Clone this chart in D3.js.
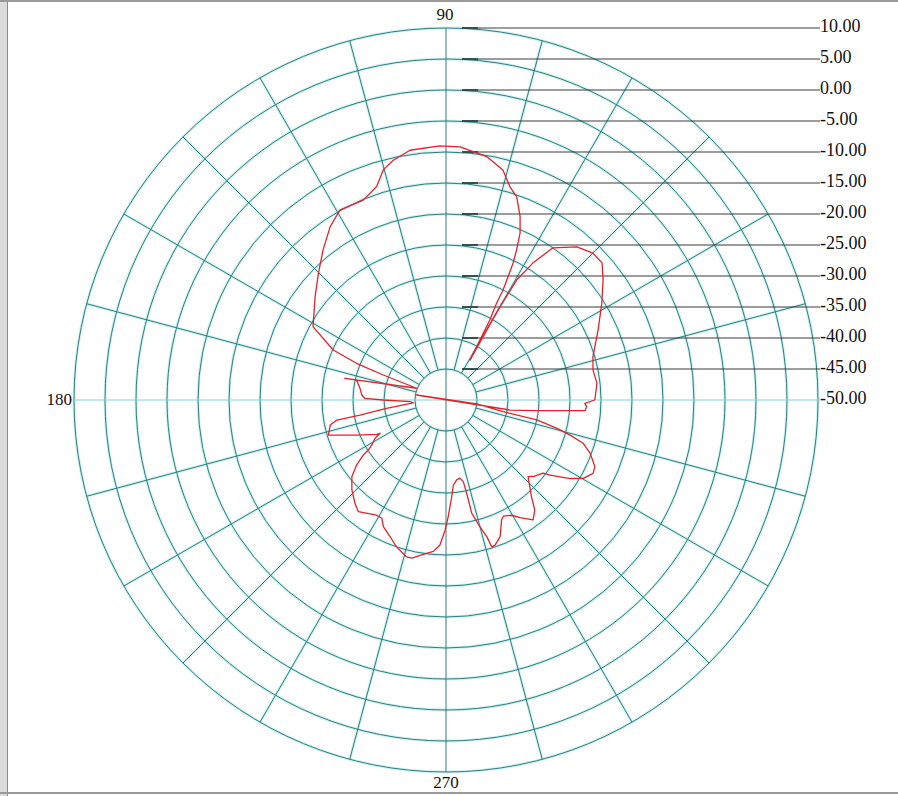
<!DOCTYPE html>
<html>
<head>
<meta charset="utf-8">
<script src="https://cdn.jsdelivr.net/npm/d3@7"></script>
<style>
  body { margin: 0; background: #fff; }
  svg { display: block; }
</style>
</head>
<body>
<svg width="898" height="796"></svg>
<script>
// measured pattern, angle in degrees (ccw from 0 = right), gain in dB
const angles = [0, 6.3, 11.5, 16.4, 24.7, 31.9, 37.4, 41.3, 45, 49.5, 54.9, 57.6, 59.5, 59.9, 59.8, 59.0,
  60.6, 61.3, 62.4, 62.6, 63.3, 63.9, 64.8, 66.1, 68.0, 70.8, 73.3, 76.1, 80.5, 86.8, 91.4, 98.2,
  102.4, 105.2, 108.0, 112.5, 119.2, 123.8, 129.3, 135.2, 141.7, 151.1, 156.1, 157.7, 158.3, 158.2,
  167.9, 167.4, 172.3, 176.6, 178.8, 180.0, 182.7, 185.2, 188.0, 189.9, 190.4, 192.2, 196.6, 201.4,
  206.3, 206.8, 208.3, 211.2, 212.8, 213.6, 216.0, 219.2, 223.7, 228.6, 231.9, 238.9, 241.5, 243.7,
  247.7, 251.4, 255.9, 257.8, 260.5, 265.2, 267.6, 269.6, 271.1, 273.4, 274.9, 277.6, 280.1, 282.0,
  282.5, 282.8, 285.0, 286.6, 287.3, 288.7, 291.6, 294.9, 296.3, 299.7, 302.2, 306.0, 308.9, 311.5,
  317.0, 318.7, 323.0, 324.2, 327.7, 330.3, 333.5, 335.9, 339.7, 342.5, 344.2, 345.7, 347.6, 348.5,
  352.6, 352.9, 350.3, 351.1, 353.3, 355.6, 357.3, 358.6, 360]
const gainDb = [-26.0, -25.5, -25.8, -25.3, -23.0, -20.4, -18.1, -16.5, -16.5, -17.5, -20.0, -23.8, -27.5, -32.6, -36.9, -42.5,
  -38.4, -35.3, -32.4, -30.0, -27.7, -25.4, -23.3, -20.5, -18.1, -15.3, -14.1, -11.8, -10.2, -9.1, -9.0, -9.3,
  -10.4, -11.5, -13.8, -15.1, -14.9, -16.4, -18.7, -21.0, -23.1, -25.5, -30.1, -34.4, -39.1, -44.9,
  -33.3, -35.2, -36.0, -36.4, -36.9, -39.9, -44.2, -44.7, -40.3, -35.9, -32.1, -30.9, -30.2, -34.5,
  -37.5, -38.1, -37.0, -36.0, -35.1, -34.0, -32.2, -30.4, -29.0, -27.8, -27.1, -28.3, -28.3, -27.2,
  -26.2, -25.0, -23.9, -23.9, -24.6, -25.5, -26.6, -29.0, -31.2, -34.4, -36.2, -37.0, -37.2, -36.5,
  -34.6, -31.3, -28.8, -27.0, -25.2, -25.3, -26.3, -28.7, -29.1, -28.6, -27.6, -26.1, -27.2, -29.2,
  -31.9, -31.3, -30.4, -29.3, -26.3, -24.5, -23.5, -23.7, -25.2, -26.8, -29.2, -31.6, -35.0, -40.6,
  -45.0, -46.1, -54.8, -39.5, -35.3, -27.5, -27.3, -27.6, -26.0]

const ringValues = [10, 5, 0, -5, -10, -15, -20, -25, -30, -35, -40, -45]
const scaleLabels = ['10.00', '5.00', '0.00', '-5.00', '-10.00', '-15.00', '-20.00', '-25.00',
  '-30.00', '-35.00', '-40.00', '-45.00', '-50.00']
const scaleLabelValues = [10, 5, 0, -5, -10, -15, -20, -25, -30, -35, -40, -45, -50]
const spokeAngles = d3.range(0, 360, 15)
const axisAngles = [90, 180, 270]
const axisTexts = ['90', '180', '270']

const svg = d3.select('svg')
const cx = 446, cy = 400, outerR = 372

// radial: -50 dB at the centre, 10 dB on the rim
const r = d3.scaleLinear().domain([-50, 10]).range([0, outerR])
// d3 radial angles run clockwise from 12 o'clock
const a = d3.scaleLinear().domain([0, 360]).range([Math.PI / 2, Math.PI / 2 - 2 * Math.PI])

const px = (deg, v) => cx + r(v) * Math.cos(deg * Math.PI / 180)
const py = (deg, v) => cy - r(v) * Math.sin(deg * Math.PI / 180)

// frame of the screenshot
svg.append('rect').attr('x', 0).attr('y', 0).attr('width', 7).attr('height', 796).attr('fill', '#dcdcdc')
svg.append('line').attr('x1', 7.5).attr('x2', 7.5).attr('y1', 0).attr('y2', 796).attr('stroke', '#8a8a8a')
svg.append('line').attr('x1', 0).attr('x2', 898).attr('y1', 1).attr('y2', 1).attr('stroke', '#9a9a9a').attr('stroke-width', 2)
svg.append('line').attr('x1', 0).attr('x2', 898).attr('y1', 793).attr('y2', 793).attr('stroke', '#9a9a9a').attr('stroke-width', 2)

const grid = svg.append('g')

// rings, with a light halo like the original
const spokes = spokeAngles.filter(d => d % 90 !== 0)
grid.selectAll('circle.halo')
  .data(ringValues)
  .enter().append('circle')
  .attr('cx', cx).attr('cy', cy)
  .attr('r', d => r(d))
  .attr('fill', 'none')
  .attr('stroke', '#d2f1f1')
  .attr('stroke-width', 3)
grid.selectAll('line.halo')
  .data(spokes)
  .enter().append('line')
  .attr('x1', d => px(d, -45)).attr('y1', d => py(d, -45))
  .attr('x2', d => px(d, 10)).attr('y2', d => py(d, 10))
  .attr('stroke', '#d2f1f1')
  .attr('stroke-width', 3)

grid.selectAll('circle.ring')
  .data(ringValues)
  .enter().append('circle')
  .attr('cx', cx).attr('cy', cy)
  .attr('r', d => r(d))
  .attr('fill', 'none')
  .attr('stroke', '#2a7f80')
  .attr('stroke-width', 1)

grid.selectAll('line.spoke')
  .data(spokes)
  .enter().append('line')
  .attr('x1', d => px(d, -45)).attr('y1', d => py(d, -45))
  .attr('x2', d => px(d, 10)).attr('y2', d => py(d, 10))
  .attr('stroke', '#2a7f80')
  .attr('stroke-width', 1)

// horizontal axis (light) runs out to the scale labels
grid.append('line')
  .attr('x1', px(180, 10)).attr('x2', 820)
  .attr('y1', cy).attr('y2', cy)
  .attr('stroke', '#86d4d4')
  .attr('stroke-width', 1.2)
// vertical axis
grid.append('line')
  .attr('x1', cx).attr('x2', cx)
  .attr('y1', py(90, 10)).attr('y2', py(270, 10))
  .attr('stroke', '#2a7f80')
  .attr('stroke-width', 1)

// scale lines and labels on the right
const scale = svg.append('g')
scale.selectAll('line.lead')
  .data(ringValues)
  .enter().append('line')
  .attr('x1', cx + 16).attr('x2', 820)
  .attr('y1', d => cy - r(d)).attr('y2', d => cy - r(d))
  .attr('stroke', '#3a3a3a')
  .attr('stroke-width', 1)
scale.selectAll('line.stub')
  .data(ringValues)
  .enter().append('line')
  .attr('x1', cx + 16).attr('x2', cx + 32)
  .attr('y1', d => cy - r(d)).attr('y2', d => cy - r(d))
  .attr('stroke', '#2a4a4a')
  .attr('stroke-width', 1.8)
scale.selectAll('text')
  .data(scaleLabelValues)
  .enter().append('text')
  .attr('x', 820)
  .attr('y', d => cy - r(d) + 4)
  .attr('font-family', 'Liberation Serif, Times New Roman, serif')
  .attr('font-size', 18)
  .attr('fill', '#111')
  .text((d, i) => scaleLabels[i])

// angle labels
const angleLabel = svg.append('g')
  .attr('font-family', 'Liberation Serif, Times New Roman, serif')
  .attr('font-size', 17)
  .attr('fill', '#111')
angleLabel.append('text').attr('x', cx - 1).attr('y', py(axisAngles[0], 10) - 8)
  .attr('text-anchor', 'middle').text(axisTexts[0])
angleLabel.append('text').attr('x', px(axisAngles[1], 10) - 2).attr('y', cy + 5)
  .attr('text-anchor', 'end').text(axisTexts[1])
angleLabel.append('text').attr('x', cx).attr('y', py(axisAngles[2], 10) + 16)
  .attr('text-anchor', 'middle').text(axisTexts[2])

// the pattern
const pattern = angles.map((d, i) => [d, gainDb[i]])
const line = d3.lineRadial()
  .angle(d => a(d[0]))
  .radius(d => r(d[1]))

svg.append('path')
  .datum(pattern)
  .attr('transform', `translate(${cx},${cy})`)
  .attr('d', line)
  .attr('fill', 'none')
  .attr('stroke', '#e3232b')
  .attr('stroke-width', 1.3)
  .attr('stroke-linejoin', 'round')
</script>
</body>
</html>
